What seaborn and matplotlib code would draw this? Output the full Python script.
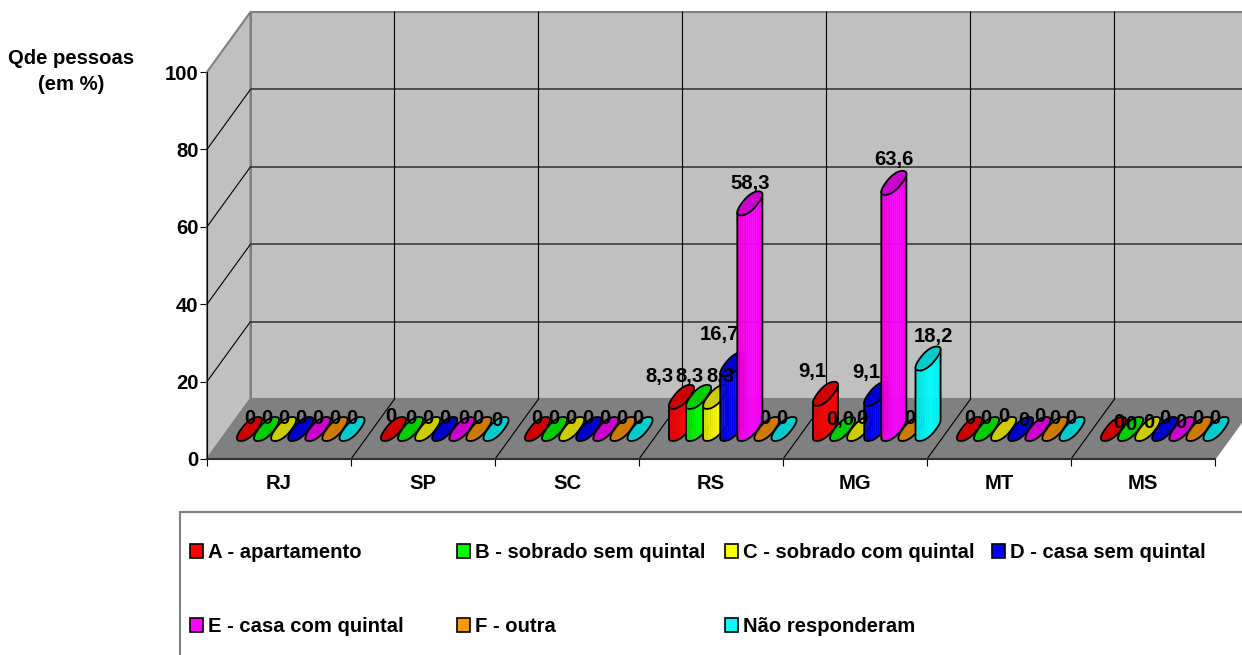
import numpy as np
import pandas as pd
import matplotlib
matplotlib.use("Agg")
import matplotlib.pyplot as plt
from matplotlib.collections import PolyCollection
from matplotlib.patches import Patch, Polygon, Rectangle
from matplotlib.colors import to_rgb
import seaborn as sns

# ---- data -------------------------------------------------------------
estados = ["RJ", "SP", "SC", "RS", "MG", "MT", "MS"]
moradias = ["A - apartamento", "B - sobrado sem quintal", "C - sobrado com quintal",
            "D - casa sem quintal", "E - casa com quintal", "F - outra", "Não responderam"]
apartamento = [0, 0, 0, 8.3, 9.1, 0, 0]
sobrado_sem = [0, 0, 0, 8.3, 0, 0, 0]
sobrado_com = [0, 0, 0, 8.3, 0, 0, 0]
casa_sem = [0, 0, 0, 16.7, 9.1, 0, 0]
casa_com = [0, 0, 0, 58.3, 63.6, 0, 0]
outra = [0, 0, 0, 0, 0, 0, 0]
nao_resp = [0, 0, 0, 0, 18.2, 0, 0]
serie = [apartamento, sobrado_sem, sobrado_com, casa_sem, casa_com, outra, nao_resp]
cores = ["#FF0000", "#00FF00", "#FFFF00", "#0000FF", "#FF00FF", "#FF9900", "#00FFFF"]
cores_topo = ["#CC0000", "#00CC00", "#CCCC00", "#0000CC", "#CC00CC", "#CC7A00", "#00CCCC"]
y_ticks = [0, 20, 40, 60, 80, 100]

# Data labels that do not follow the default format
rotulo_especial = {("MG", 1): "0,0"}
# Hand placement of labels (pixels: right, down)
ajuste_rotulo = {
    ("RS", 0): (-22, 2), ("RS", 1): (-9, 2), ("RS", 2): (5, 2), ("RS", 3): (-13.5, -8),
    ("RS", 4): (0, 2), ("RS", 5): (-2, 0), ("RS", 6): (-2, 0),
    ("MG", 0): (-13, 0), ("MG", 1): (-2, 0), ("MG", 2): (2, 0), ("MG", 3): (-10, 1),
    ("MG", 4): (0, -1), ("MG", 5): (-1, 0), ("MG", 6): (5, 0),
    ("SP", 0): (-3, -2), ("SP", 4): (2, 0), ("SP", 5): (-1, -1), ("SP", 6): (1, 2),
    ("SC", 0): (-1, -1), ("SC", 1): (-1, -1), ("SC", 2): (-1, -1), ("SC", 3): (-1, -1),
    ("SC", 4): (-1, -1), ("SC", 5): (-1, -1), ("SC", 6): (-2, -1),
    ("MT", 1): (-1, -1), ("MT", 2): (0, -2), ("MT", 3): (3, 2), ("MT", 4): (2, -2),
    ("MT", 5): (0, -1), ("MT", 6): (-1, -1),
    ("MS", 0): (5, 3), ("MS", 2): (1, 3), ("MS", 1): (0, 5), ("MS", 3): (0, -1),
    ("MS", 4): (-1, 3), ("MS", 5): (-1, -1), ("MS", 6): (-1, -1),
}

df = pd.DataFrame({
    "estado": estados * len(moradias),
    "pct": np.concatenate(serie),
    "moradia": np.repeat(moradias, len(estados)),
})

# ---- page and theme -----------------------------------------------------
W, H = 1242, 655
sns.set_style("white")
plt.rcParams["font.family"] = ["Liberation Sans", "DejaVu Sans"]
plt.rcParams["font.weight"] = "bold"
for chave in ("text.color", "axes.labelcolor", "xtick.color", "ytick.color"):
    plt.rcParams[chave] = "black"
FS = 14.6
PX = 72 / 100  # points per pixel at 100 dpi

fig = plt.figure(figsize=(W / 100, H / 100), dpi=100)
ax = fig.add_axes([207 / W, (H - 459) / H, 1008 / W, 387 / H])
ax.set_facecolor("none")

sns.barplot(data=df, x="estado", y="pct", hue="moradia", order=estados, hue_order=moradias,
            palette=dict(zip(moradias, cores)), saturation=1, width=0.831, gap=0,
            legend=False, ax=ax)
barras = sorted(ax.patches, key=lambda b: b.get_x())
ax.set_xlim(-0.5, 6.5)
ax.set_ylim(0, 100)

# Oblique depth of the chart box, in data units
DX, DY = 43.5 / 144, 60 / 3.87
X0, X1 = -0.5, 6.5
CIN, PISO, LINHA = "#C0C0C0", "#808080", "#000000"


def proj(x, y, depth):
    return x + depth * DX, y + depth * DY


# ---- walls and floor ----------------------------------------------------
kw = dict(clip_on=False, zorder=1)
ax.add_patch(Polygon([(X0, 0), proj(X0, 0, 1), proj(X0, 100, 1), (X0, 100)],
                     fc=CIN, ec=PISO, lw=1.5, **kw))
ax.add_patch(Polygon([proj(X0, 0, 1), proj(X1, 0, 1), proj(X1, 100, 1), proj(X0, 100, 1)],
                     fc=CIN, ec=PISO, lw=1.5, **kw))
ax.add_patch(Polygon([(X0, 0), (X1, 0), proj(X1, 0, 1), proj(X0, 0, 1)],
                     fc=PISO, ec=PISO, lw=1, **kw))

lkw = dict(color=LINHA, lw=0.8, clip_on=False, zorder=1.5)
for v in y_ticks[1:-1]:
    ax.plot(*zip((X0, v), proj(X0, v, 1)), **lkw)
    ax.plot(*zip(proj(X0, v, 1), proj(X1, v, 1)), color="#303030", lw=1.1, clip_on=False, zorder=1.5)
for i in range(1, len(estados)):
    x = X0 + i
    ax.plot(*zip((x, 0), proj(x, 0, 1), proj(x, 100, 1)), **lkw)

# ---- cylinders, built from the bars seaborn laid out --------------------
RAIO_PROF = 0.2  # cylinder radius as a share of the box depth
ROUND = 0.86     # below 1 gives the caps a slightly fuller outline
largura = barras[0].get_width()
rotulos = []


def anel(cx, r, v, t):
    c, s = np.cos(t), np.sin(t)
    c, s = np.sign(c) * np.abs(c) ** ROUND, np.sign(s) * np.abs(s) ** ROUND
    x, y = proj(cx + r * c, v, 0.5 + RAIO_PROF * s)
    return np.column_stack([x, y])


tv = np.arctan2(RAIO_PROF * DX, largura / 2)
frente = np.linspace(tv + np.pi, tv + 2 * np.pi, 19)
volta = np.linspace(0, 2 * np.pi, 145)
peso = np.interp(np.linspace(0, 1, 18), [0, 0.6, 1], [0.82, 1.0, 0.9])

for barra in barras:
    cx = barra.get_x() + barra.get_width() / 2
    v = barra.get_height()
    barra.set_visible(False)
    i_est = int(round(cx))
    i_ser = int(round((cx - i_est) / largura + 3))
    base = np.array(to_rgb(cores[i_ser]))
    raio = largura / 2 * 0.96

    if v > 0:
        baixo, cima = anel(cx, raio, 0, frente), anel(cx, raio, v, frente)
        faixas = [[cima[j], cima[j + 1], baixo[j + 1], baixo[j]] for j in range(len(frente) - 1)]
        ax.add_collection(PolyCollection(faixas, facecolors=[base * p for p in peso], edgecolors="none",
                                         antialiaseds=False, alpha=0.9, clip_on=False, zorder=3))
        contorno = np.vstack([cima[:1], baixo, cima[-1:]])
        ax.plot(contorno[:, 0], contorno[:, 1], color="black", lw=1.3, clip_on=False, zorder=3)

    ax.add_patch(Polygon(anel(cx, raio, v, volta), closed=True, fc=cores_topo[i_ser], ec="black",
                         lw=1.3, clip_on=False, zorder=3))

    texto = rotulo_especial.get((estados[i_est], i_ser),
                                "0" if v == 0 else f"{v:.1f}".replace(".", ","))
    dx, dy = ajuste_rotulo.get((estados[i_est], i_ser), (0, 0))
    subida = 10 if v == 0 else 22
    rotulos.append((texto, proj(cx, v, 0.5), (dx * PX, (subida - dy) * PX)))

for texto, ponto, desloc in rotulos:
    ax.annotate(texto, xy=ponto, xytext=desloc, textcoords="offset points", ha="center", va="center",
                fontsize=FS, fontweight="bold", color="black", annotation_clip=False, zorder=5)

# ---- axes ---------------------------------------------------------------
sns.despine(ax=ax, top=True, right=True)
ax.spines["left"].set_linewidth(0.8)
ax.spines["left"].set_color("black")
ax.spines["bottom"].set_linewidth(1.5)
ax.spines["bottom"].set_color("#303030")
ax.set_yticks(y_ticks, labels=[str(v) for v in y_ticks])
ax.set_xticks(range(len(estados)), labels=estados)
ax.set_xticks(np.arange(X0, X1 + 0.5), minor=True)
ax.tick_params(axis="x", which="major", length=0, pad=11, labelsize=FS)
ax.tick_params(axis="x", which="minor", length=5, width=0.8, color="black", bottom=True)
ax.tick_params(axis="y", length=5, width=0.8, color="black", left=True, pad=1, labelsize=FS)
ax.set_xlabel("")
ax.set_ylabel("Qde pessoas\n(em %)", rotation=0, fontsize=FS, fontweight="bold",
              ha="center", va="center", linespacing=1.4)
ax.yaxis.set_label_coords((71.5 - 207) / 1008, (459 - 71.5) / 387)

# ---- legend panel -------------------------------------------------------
fig.add_artist(Rectangle((180 / W, -0.1), 1.0, (H - 512) / H + 0.1, transform=fig.transFigure,
                         fc="white", ec=PISO, lw=1.5, zorder=0))
colunas = [(190, [0, 4]), (457, [1, 5]), (725, [2, 6]), (992, [3])]
for x_col, idx in colunas:
    fig.legend(handles=[Patch(fc=cores[i], ec="black", lw=1.2) for i in idx],
               labels=[moradias[i] for i in idx],
               loc="upper left", bbox_to_anchor=(x_col / W, (H - 543) / H),
               bbox_transform=fig.transFigure, frameon=False, borderpad=0, borderaxespad=0,
               handlelength=0.65, handleheight=0.65, handletextpad=0.25,
               labelspacing=2.72, prop=dict(size=FS, weight="bold"))

fig.savefig("out.png", dpi=100)
